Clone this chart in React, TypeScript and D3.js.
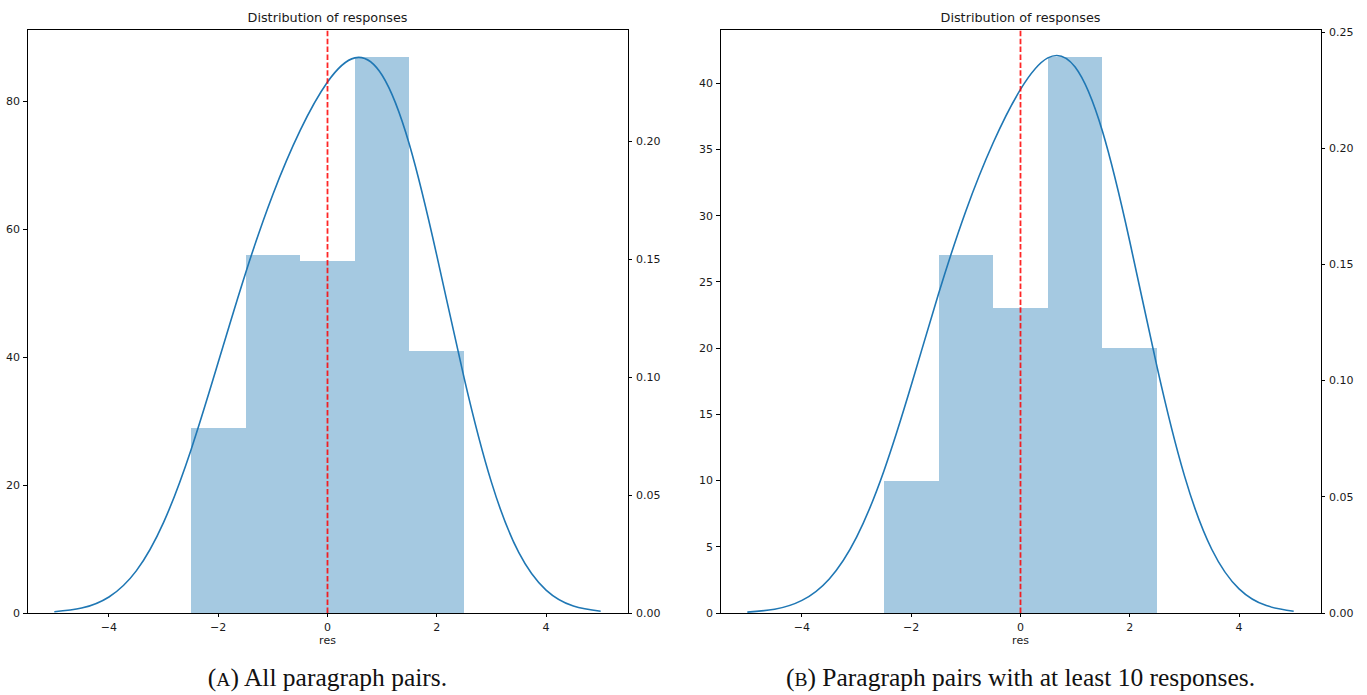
import React, { useEffect } from "react";
import * as d3 from "d3";

// ---------- data ----------
const binEdges = [-2.5, -1.5, -0.5, 0.5, 1.5, 2.5];
const countsA = [29, 56, 55, 87, 41];
const countsB = [10, 27, 23, 42, 20];

const kdeX = [-5, -4.5, -4, -3.5, -3, -2.5, -2, -1.5, -1, -0.5, 0, 0.5, 1, 1.5, 2, 2.5, 3, 3.5, 4, 4.5, 5];
const kdeA = [0.00051, 0.00208, 0.0068, 0.01786, 0.03842, 0.06904, 0.10627, 0.14407, 0.17741, 0.20456, 0.22508, 0.23532, 0.22794, 0.19849, 0.1516, 0.09969, 0.05548, 0.02569, 0.00973, 0.00297, 0.00072];
const kdeB = [0.00039, 0.00163, 0.00543, 0.01467, 0.03266, 0.06113, 0.09798, 0.13737, 0.17305, 0.20237, 0.22534, 0.23891, 0.23494, 0.20729, 0.15987, 0.10581, 0.05912, 0.02744, 0.0104, 0.00318, 0.00077];

const xTicks = [-4, -2, 0, 2, 4];
const countTicksA = [0, 20, 40, 60, 80];
const densityTicksA = [0, 0.05, 0.1, 0.15, 0.2];
const countTicksB = [0, 5, 10, 15, 20, 25, 30, 35, 40];
const densityTicksB = [0, 0.05, 0.1, 0.15, 0.2, 0.25];

const chartTitle = "Distribution of responses";
const xLabel = "res";
const captionA = { tag: "A", text: " All paragraph pairs." };
const captionB = { tag: "B", text: " Paragraph pairs with at least 10 responses." };

// ---------- styles ----------
const BAR_FILL = "#1f77b4";
const LINE = "#1f77b4";
const FONT = "DejaVu Sans, sans-serif";
const TEXT = "#1a1a1a";

type PanelProps = {
  left: number;
  right: number;
  top: number;
  bottom: number;
  counts: number[];
  kde: number[];
  countTicks: number[];
  densityTicks: number[];
  caption: { tag: string; text: string };
};

function Panel({ left, right, top, bottom, counts, kde, countTicks, densityTicks, caption }: PanelProps) {
  const x = d3.scaleLinear().domain([-5.5, 5.5]).range([left, right]);
  const yc = d3
    .scaleLinear()
    .domain([0, (d3.max(counts) as number) * 1.05])
    .range([bottom, top]);
  const yd = d3
    .scaleLinear()
    .domain([0, (d3.max(kde) as number) * 1.052])
    .range([bottom, top]);

  const line = d3
    .line<number>()
    .x((_, i) => x(kdeX[i]))
    .y((d) => yd(d))
    .curve(d3.curveNatural);

  const cx = (left + right) / 2;
  const tick = 4;

  return (
    <g>
      {counts.map((c, i) => (
        <rect
          key={i}
          x={x(binEdges[i])}
          y={yc(c)}
          width={x(binEdges[i + 1]) - x(binEdges[i])}
          height={bottom - yc(c)}
          fill={BAR_FILL}
          fillOpacity={0.4}
          shapeRendering="crispEdges"
        />
      ))}
      <path d={line(kde) || ""} fill="none" stroke={LINE} strokeWidth={1.6} />
      <line
        x1={x(0)}
        x2={x(0)}
        y1={bottom}
        y2={top}
        stroke="#ff0000"
        strokeOpacity={0.85}
        strokeWidth={1.8}
        strokeDasharray="5.5,2.4"
      />
      {/* spines */}
      <rect x={left} y={top} width={right - left} height={bottom - top} fill="none" stroke="#000" strokeWidth={1} shapeRendering="crispEdges" />
      {/* x ticks */}
      {xTicks.map((t) => (
        <g key={"x" + t}>
          <line x1={x(t)} x2={x(t)} y1={bottom} y2={bottom + tick} stroke="#000" shapeRendering="crispEdges" />
          <text x={x(t)} y={bottom + 18} textAnchor="middle" fontFamily={FONT} fontSize={11} fill={TEXT}>
            {t < 0 ? "\u2212" + Math.abs(t) : String(t)}
          </text>
        </g>
      ))}
      <text x={cx} y={bottom + 31} textAnchor="middle" fontFamily={FONT} fontSize={11} fill={TEXT}>
        {xLabel}
      </text>
      {/* left count ticks */}
      {countTicks.map((t) => (
        <g key={"c" + t}>
          <line x1={left - tick} x2={left} y1={yc(t)} y2={yc(t)} stroke="#000" shapeRendering="crispEdges" />
          <text x={left - 7} y={yc(t)} dy="0.35em" textAnchor="end" fontFamily={FONT} fontSize={11} fill={TEXT}>
            {String(t)}
          </text>
        </g>
      ))}
      {/* right density ticks */}
      {densityTicks.map((t) => (
        <g key={"d" + t}>
          <line x1={right} x2={right + tick} y1={yd(t)} y2={yd(t)} stroke="#000" shapeRendering="crispEdges" />
          <text x={right + 8} y={yd(t)} dy="0.35em" textAnchor="start" fontFamily={FONT} fontSize={11} fill={TEXT}>
            {d3.format(".2f")(t)}
          </text>
        </g>
      ))}
      <text x={cx} y={top - 7} textAnchor="middle" fontFamily={FONT} fontSize={12.8} fill={TEXT}>
        {chartTitle}
      </text>
      <text x={cx} y={686} textAnchor="middle" fontFamily="Liberation Serif, serif" fontSize={25.5} fill="#111">
        {"("}
        <tspan fontSize={19.5}>{caption.tag}</tspan>
        <tspan>{")" + caption.text}</tspan>
      </text>
    </g>
  );
}

export default function App() {
  useEffect(() => {
    document.body.style.margin = "0";
  }, []);
  return (
    <svg width={1367} height={695} style={{ display: "block", position: "absolute", left: 0, top: 0, background: "#fff" }}>
      <rect x={0} y={0} width={1367} height={695} fill="#fff" />
      <Panel
        left={27}
        right={628}
        top={29}
        bottom={613}
        counts={countsA}
        kde={kdeA}
        countTicks={countTicksA}
        densityTicks={densityTicksA}
        caption={captionA}
      />
      <Panel
        left={720}
        right={1321}
        top={29}
        bottom={613}
        counts={countsB}
        kde={kdeB}
        countTicks={countTicksB}
        densityTicks={densityTicksB}
        caption={captionB}
      />
    </svg>
  );
}
